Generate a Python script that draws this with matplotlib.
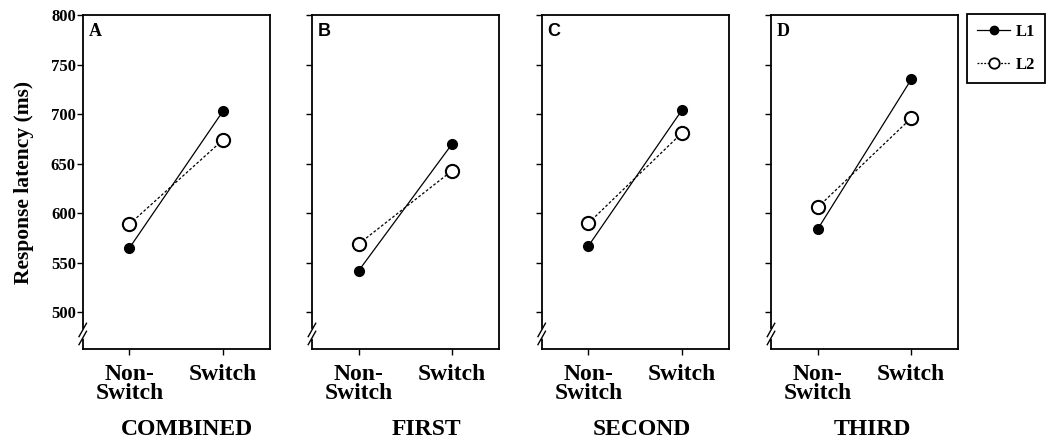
import matplotlib
matplotlib.use("Agg")
import matplotlib.pyplot as plt
from matplotlib.lines import Line2D

# ---- data ----
conditions = ["Non-\nSwitch", "Switch"]
panels = ["COMBINED", "FIRST", "SECOND", "THIRD"]
panel_letters = ["A", "B", "C", "D"]
l1_combined = [565, 703]
l2_combined = [589, 674]
l1_first = [542, 670]
l2_first = [569, 643]
l1_second = [567, 704]
l2_second = [590, 681]
l1_third = [584, 735]
l2_third = [606, 696]
l1_series = [l1_combined, l1_first, l1_second, l1_third]
l2_series = [l2_combined, l2_first, l2_second, l2_third]
y_ticks = [500, 550, 600, 650, 700, 750, 800]

serif = "Liberation Serif"
sans = "Liberation Sans"
letter_fonts = [serif, sans, sans, serif]
title_x = [0.56, 0.61, 0.535, 0.54]

fig = plt.figure(figsize=(10.5, 4.44), dpi=100)
lefts = [0.0788, 0.2971, 0.5159, 0.7343]
bottom, height, width = 0.214, 0.752, 0.178

x = [0, 1]
for i in range(4):
    ax = fig.add_axes([lefts[i], bottom, width, height])
    ax.plot(x, l1_series[i], color="black", lw=0.9, ls="-", marker="o",
            ms=7, mfc="black", mec="black", zorder=3)
    ax.plot(x, l2_series[i], color="black", lw=0.9, ls=(0, (2.2, 1.6)),
            marker="o", ms=9.5, mfc="white", mec="black", mew=1.5, zorder=3)
    ax.set_xlim(-0.5, 1.5)
    ax.set_ylim(463, 800)
    ax.set_xticks(x)
    ax.set_xticklabels(conditions, fontfamily=serif, fontweight="bold",
                       fontsize=17, linespacing=0.85, va="top")
    ax.set_yticks(y_ticks)
    if i == 0:
        ax.set_yticklabels([str(v) for v in y_ticks], fontfamily=serif,
                           fontweight="bold", fontsize=12)
        ax.set_ylabel("Response latency (ms)", fontfamily=serif,
                      fontweight="bold", fontsize=15.5, labelpad=12)
    else:
        ax.set_yticklabels([])
    ax.tick_params(axis="y", direction="out", length=4, width=1, pad=1)
    ax.tick_params(axis="x", direction="out", length=4, width=1, pad=7)
    for s in ax.spines.values():
        s.set_linewidth(1.3)
    ax.text(0.03, 0.975, panel_letters[i], transform=ax.transAxes,
            ha="left", va="top", fontfamily=letter_fonts[i],
            fontweight="bold", fontsize=13)
    # axis break on left spine
    yb = 0.045
    ax.plot([-0.01, 0.01], [yb - 0.012, yb + 0.012], transform=ax.transAxes,
            color="white", lw=4, clip_on=False, zorder=5,
            solid_capstyle="butt")
    for dy in (-0.012, 0.012):
        ax.plot([-0.02, 0.02], [yb + dy - 0.02, yb + dy + 0.02],
                transform=ax.transAxes, color="black", lw=1.0,
                clip_on=False, zorder=6)
    fig.text(lefts[i] + width * title_x[i], 0.032, panels[i], ha="center",
             va="center", fontfamily=serif, fontweight="bold", fontsize=17)

handles = [
    Line2D([], [], color="black", lw=0.9, ls="-", marker="o", ms=6,
           mfc="black", mec="black"),
    Line2D([], [], color="black", lw=0.9, ls=(0, (1.5, 1.2)), marker="o",
           ms=7.5, mfc="white", mec="black", mew=1.3),
]
leg = fig.legend(handles, ["L1", "L2"], loc="upper left",
                 bbox_to_anchor=(967 / 1050, 1 - 14 / 444),
                 frameon=True, fancybox=False, edgecolor="black",
                 framealpha=1, handlelength=2.0, handletextpad=0.3,
                 borderpad=0.6, labelspacing=1.0, borderaxespad=0,
                 prop={"family": serif, "weight": "bold", "size": 12})
leg.get_frame().set_linewidth(1.3)

fig.savefig("out.png", dpi=100)
